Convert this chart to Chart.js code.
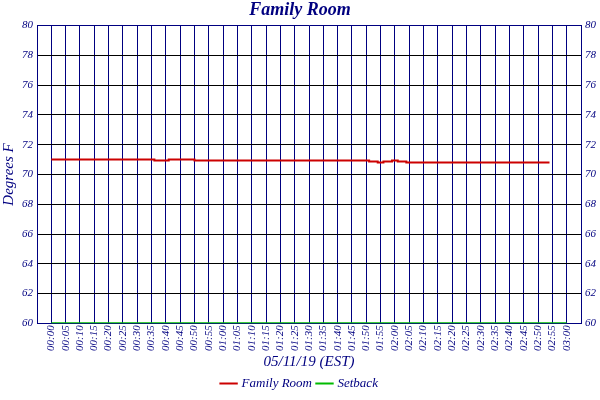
<!DOCTYPE html>
<html>
<head>
<meta charset="utf-8">
<script src="https://cdn.jsdelivr.net/npm/chart.js@4"></script>
<style>
  html, body { margin: 0; padding: 0; background: #fff; }
  #wrap { width: 600px; height: 400px; }
</style>
</head>
<body>
<div id="wrap"><canvas id="c"></canvas></div>
<script>
// minutes after 00:00, stepped readings
const roomMinutes = [0, 36, 41, 50, 111, 114, 116, 119, 121, 124, 174];
const roomTemps   = [71.0, 70.93, 71.0, 70.93, 70.87, 70.8, 70.87, 70.93, 70.87, 70.8, 70.8];
const setbackMinutes = [0, 180];
const setbackTemps   = [60, 60];
const yTicks = [60, 62, 64, 66, 68, 70, 72, 74, 76, 78, 80];

const NAVY = '#000080';
const font = { family: 'Liberation Serif', style: 'italic', size: 11 };

const fmtTime = m => {
  const h = Math.floor(m / 60), mm = m % 60;
  return String(h).padStart(2, '0') + ':' + String(mm).padStart(2, '0');
};
const pts = (xs, ys) => xs.map((x, i) => ({ x, y: ys[i] }));

const yAxis = (pos) => ({
  position: pos,
  min: 60, max: 80,
  afterBuildTicks: ax => { ax.ticks = yTicks.map(v => ({ value: v })); },
  ticks: { color: NAVY, font, padding: 4 },
  grid: {
    display: pos === 'left',
    color: c => (c.tick.value === 80 || c.tick.value === 60) ? NAVY : '#000',
    lineWidth: 1, drawTicks: false
  },
  border: { color: NAVY },
  title: pos === 'left'
    ? { display: true, text: 'Degrees F', color: NAVY, font: { ...font, size: 15 }, padding: 0 }
    : { display: false }
});

new Chart(document.getElementById('c'), {
  type: 'line',
  data: {
    datasets: [
      { label: 'Family Room', data: pts(roomMinutes, roomTemps), borderColor: '#cc0000',
        backgroundColor: '#cc0000', stepped: true, borderWidth: 2, pointRadius: 0 },
      { label: 'Setback', data: pts(setbackMinutes, setbackTemps), borderColor: '#00bb00',
        backgroundColor: '#00bb00', borderWidth: 2, pointRadius: 0 }
    ]
  },
  options: {
    responsive: true,
    maintainAspectRatio: false,
    animation: false,
    layout: { padding: { left: 0, right: 0, top: 0, bottom: 0 } },
    scales: {
      x: {
        type: 'linear', min: -5, max: 185,
        afterBuildTicks: ax => {
          const t = [];
          for (let m = 0; m <= 180; m += 5) t.push({ value: m });
          ax.ticks = t;
        },
        ticks: { color: NAVY, font, maxRotation: 90, minRotation: 90, autoSkip: false,
                 padding: 2, callback: v => fmtTime(v) },
        grid: { color: NAVY, drawTicks: false },
        border: { color: NAVY },
        title: { display: true, text: '05/11/19 (EST)', color: NAVY, font: { ...font, size: 15 }, padding: 0 }
      },
      y: yAxis('left'),
      y2: yAxis('right')
    },
    plugins: {
      title: { display: true, text: 'Family Room', color: NAVY,
               font: { family: 'Liberation Serif', style: 'italic', weight: 'bold', size: 18 },
               padding: { top: 0, bottom: 4 } },
      legend: { position: 'bottom',
                labels: { color: NAVY, font: { ...font, size: 13 }, usePointStyle: true,
                          pointStyle: 'line', boxWidth: 16, padding: 6 } },
      tooltip: { enabled: false }
    }
  }
});
</script>
</body>
</html>
